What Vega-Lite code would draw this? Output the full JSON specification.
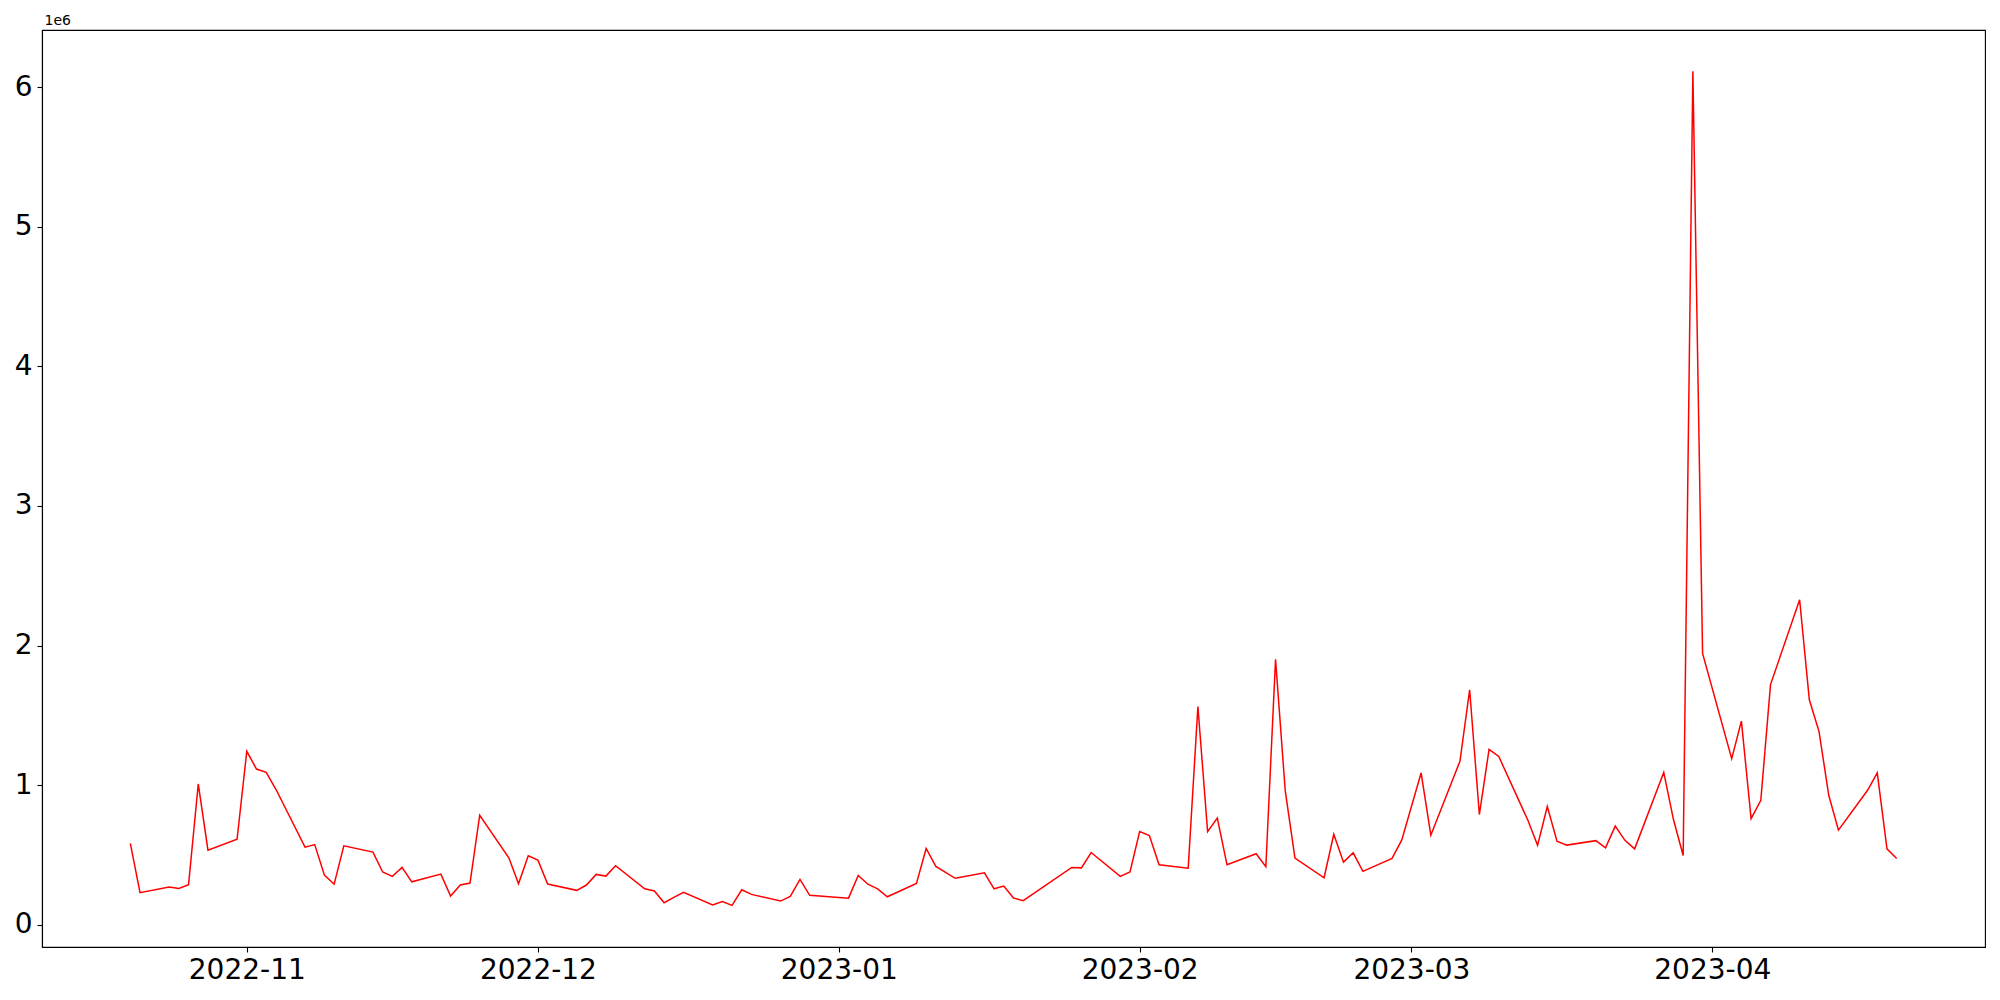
{
  "$schema": "https://vega.github.io/schema/vega-lite/v6.json",
  "width": 1943,
  "height": 917,
  "autosize": {"type": "none"},
  "padding": {"left": 42, "top": 30, "right": 15, "bottom": 53},
  "background": "white",
  "config": {
    "view": {"stroke": "black", "strokeWidth": 1.1},
    "font": "DejaVu Sans"
  },
  "data": {
    "values": [
      {"date": "2022-10-20", "volume": 582000},
      {"date": "2022-10-21", "volume": 229000},
      {"date": "2022-10-24", "volume": 270000},
      {"date": "2022-10-25", "volume": 260000},
      {"date": "2022-10-26", "volume": 286000},
      {"date": "2022-10-27", "volume": 1008000},
      {"date": "2022-10-28", "volume": 534000},
      {"date": "2022-10-31", "volume": 612000},
      {"date": "2022-11-01", "volume": 1242000},
      {"date": "2022-11-02", "volume": 1115000},
      {"date": "2022-11-03", "volume": 1091000},
      {"date": "2022-11-04", "volume": 970000},
      {"date": "2022-11-07", "volume": 555000},
      {"date": "2022-11-08", "volume": 574000},
      {"date": "2022-11-09", "volume": 355000},
      {"date": "2022-11-10", "volume": 290000},
      {"date": "2022-11-11", "volume": 565000},
      {"date": "2022-11-14", "volume": 520000},
      {"date": "2022-11-15", "volume": 377000},
      {"date": "2022-11-16", "volume": 346000},
      {"date": "2022-11-17", "volume": 410000},
      {"date": "2022-11-18", "volume": 307000},
      {"date": "2022-11-21", "volume": 362000},
      {"date": "2022-11-22", "volume": 205000},
      {"date": "2022-11-23", "volume": 284000},
      {"date": "2022-11-24", "volume": 298000},
      {"date": "2022-11-25", "volume": 784000},
      {"date": "2022-11-28", "volume": 479000},
      {"date": "2022-11-29", "volume": 293000},
      {"date": "2022-11-30", "volume": 493000},
      {"date": "2022-12-01", "volume": 462000},
      {"date": "2022-12-02", "volume": 291000},
      {"date": "2022-12-05", "volume": 246000},
      {"date": "2022-12-06", "volume": 284000},
      {"date": "2022-12-07", "volume": 360000},
      {"date": "2022-12-08", "volume": 348000},
      {"date": "2022-12-09", "volume": 422000},
      {"date": "2022-12-12", "volume": 257000},
      {"date": "2022-12-13", "volume": 241000},
      {"date": "2022-12-14", "volume": 157000},
      {"date": "2022-12-15", "volume": 195000},
      {"date": "2022-12-16", "volume": 231000},
      {"date": "2022-12-19", "volume": 141000},
      {"date": "2022-12-20", "volume": 165000},
      {"date": "2022-12-21", "volume": 138000},
      {"date": "2022-12-22", "volume": 250000},
      {"date": "2022-12-23", "volume": 217000},
      {"date": "2022-12-26", "volume": 169000},
      {"date": "2022-12-27", "volume": 203000},
      {"date": "2022-12-28", "volume": 324000},
      {"date": "2022-12-29", "volume": 210000},
      {"date": "2023-01-02", "volume": 190000},
      {"date": "2023-01-03", "volume": 353000},
      {"date": "2023-01-04", "volume": 290000},
      {"date": "2023-01-05", "volume": 257000},
      {"date": "2023-01-06", "volume": 200000},
      {"date": "2023-01-09", "volume": 296000},
      {"date": "2023-01-10", "volume": 546000},
      {"date": "2023-01-11", "volume": 417000},
      {"date": "2023-01-12", "volume": 375000},
      {"date": "2023-01-13", "volume": 332000},
      {"date": "2023-01-16", "volume": 372000},
      {"date": "2023-01-17", "volume": 257000},
      {"date": "2023-01-18", "volume": 277000},
      {"date": "2023-01-19", "volume": 191000},
      {"date": "2023-01-20", "volume": 172000},
      {"date": "2023-01-25", "volume": 410000},
      {"date": "2023-01-26", "volume": 407000},
      {"date": "2023-01-27", "volume": 517000},
      {"date": "2023-01-30", "volume": 346000},
      {"date": "2023-01-31", "volume": 377000},
      {"date": "2023-02-01", "volume": 667000},
      {"date": "2023-02-02", "volume": 639000},
      {"date": "2023-02-03", "volume": 429000},
      {"date": "2023-02-06", "volume": 405000},
      {"date": "2023-02-07", "volume": 1563000},
      {"date": "2023-02-08", "volume": 667000},
      {"date": "2023-02-09", "volume": 763000},
      {"date": "2023-02-10", "volume": 429000},
      {"date": "2023-02-13", "volume": 508000},
      {"date": "2023-02-14", "volume": 415000},
      {"date": "2023-02-15", "volume": 1901000},
      {"date": "2023-02-16", "volume": 958000},
      {"date": "2023-02-17", "volume": 477000},
      {"date": "2023-02-20", "volume": 336000},
      {"date": "2023-02-21", "volume": 648000},
      {"date": "2023-02-22", "volume": 448000},
      {"date": "2023-02-23", "volume": 515000},
      {"date": "2023-02-24", "volume": 382000},
      {"date": "2023-02-27", "volume": 475000},
      {"date": "2023-02-28", "volume": 605000},
      {"date": "2023-03-02", "volume": 1087000},
      {"date": "2023-03-03", "volume": 641000},
      {"date": "2023-03-06", "volume": 1171000},
      {"date": "2023-03-07", "volume": 1683000},
      {"date": "2023-03-08", "volume": 789000},
      {"date": "2023-03-09", "volume": 1256000},
      {"date": "2023-03-10", "volume": 1205000},
      {"date": "2023-03-13", "volume": 748000},
      {"date": "2023-03-14", "volume": 568000},
      {"date": "2023-03-15", "volume": 847000},
      {"date": "2023-03-16", "volume": 598000},
      {"date": "2023-03-17", "volume": 570000},
      {"date": "2023-03-20", "volume": 602000},
      {"date": "2023-03-21", "volume": 550000},
      {"date": "2023-03-22", "volume": 706000},
      {"date": "2023-03-23", "volume": 604000},
      {"date": "2023-03-24", "volume": 543000},
      {"date": "2023-03-27", "volume": 1091000},
      {"date": "2023-03-28", "volume": 753000},
      {"date": "2023-03-29", "volume": 496000},
      {"date": "2023-03-30", "volume": 6114000},
      {"date": "2023-03-31", "volume": 1944000},
      {"date": "2023-04-03", "volume": 1189000},
      {"date": "2023-04-04", "volume": 1458000},
      {"date": "2023-04-05", "volume": 760000},
      {"date": "2023-04-06", "volume": 891000},
      {"date": "2023-04-07", "volume": 1720000},
      {"date": "2023-04-10", "volume": 2328000},
      {"date": "2023-04-11", "volume": 1611000},
      {"date": "2023-04-12", "volume": 1383000},
      {"date": "2023-04-13", "volume": 927000},
      {"date": "2023-04-14", "volume": 677000},
      {"date": "2023-04-17", "volume": 963000},
      {"date": "2023-04-18", "volume": 1087000},
      {"date": "2023-04-19", "volume": 543000},
      {"date": "2023-04-20", "volume": 474000}
    ]
  },
  "mark": {"type": "line", "color": "#ff0000", "strokeWidth": 1.5, "clip": true},
  "encoding": {
    "x": {
      "field": "date",
      "type": "temporal",
      "scale": {
        "type": "utc",
        "domain": [
          {"year": 2022, "month": 10, "date": 10, "hours": 21, "minutes": 36, "utc": true},
          {"year": 2023, "month": 4, "date": 29, "hours": 2, "minutes": 24, "utc": true}
        ]
      },
      "axis": {
        "title": null,
        "values": [
          {"year": 2022, "month": 11, "date": 1, "utc": true},
          {"year": 2022, "month": 12, "date": 1, "utc": true},
          {"year": 2023, "month": 1, "date": 1, "utc": true},
          {"year": 2023, "month": 2, "date": 1, "utc": true},
          {"year": 2023, "month": 3, "date": 1, "utc": true},
          {"year": 2023, "month": 4, "date": 1, "utc": true}
        ],
        "format": "%Y-%m",
        "grid": false,
        "domainColor": "black",
        "domainWidth": 1.1,
        "tickColor": "black",
        "tickWidth": 1.1,
        "tickSize": 5,
        "labelFont": "DejaVu Sans",
        "labelFontSize": 28,
        "labelColor": "black",
        "labelPadding": 4,
        "labelFlush": false,
        "labelOverlap": false
      }
    },
    "y": {
      "field": "volume",
      "type": "quantitative",
      "scale": {"domain": [-160000, 6410000], "nice": false, "zero": false},
      "axis": {
        "title": "1e6",
        "titleAngle": 0,
        "titleX": 2,
        "titleY": -3,
        "titleAlign": "left",
        "titleBaseline": "bottom",
        "titleFont": "DejaVu Sans",
        "titleFontSize": 14,
        "titleFontWeight": "normal",
        "titleColor": "black",
        "values": [0, 1000000, 2000000, 3000000, 4000000, 5000000, 6000000],
        "labelExpr": "format(datum.value / 1000000, 'd')",
        "grid": false,
        "domainColor": "black",
        "domainWidth": 1.1,
        "tickColor": "black",
        "tickWidth": 1.1,
        "tickSize": 5,
        "labelFont": "DejaVu Sans",
        "labelFontSize": 28,
        "labelColor": "black",
        "labelPadding": 5,
        "labelFlush": false,
        "labelOverlap": false
      }
    }
  }
}
